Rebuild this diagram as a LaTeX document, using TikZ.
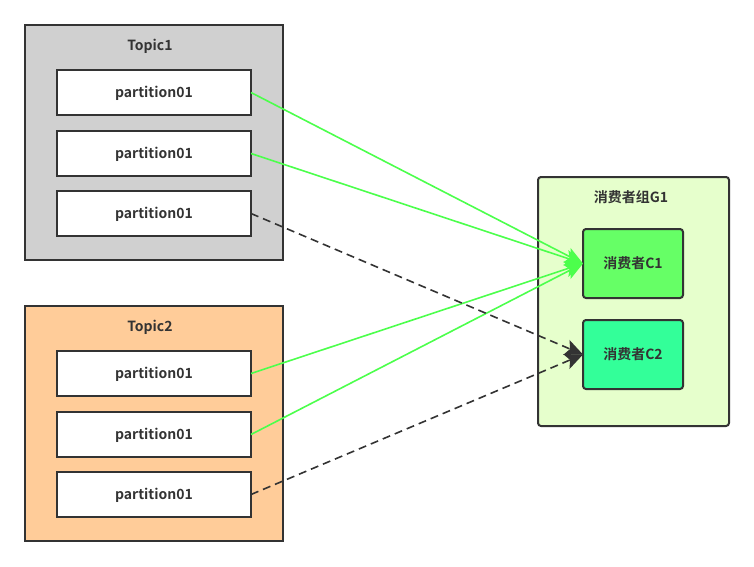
\documentclass[tikz,border=0pt]{standalone}
\usepackage{fontspec}
\setmainfont{Noto Sans CJK SC}[BoldFont={* Bold}]
\usetikzlibrary{arrows.meta}
\definecolor{edge}{HTML}{333333}
\definecolor{topicA}{HTML}{D0D0D0}
\definecolor{topicB}{HTML}{FFCC99}
\definecolor{grp}{HTML}{E6FFCC}
\definecolor{cone}{HTML}{66FF66}
\definecolor{ctwo}{HTML}{33FF99}
\definecolor{gline}{HTML}{4CFF4C}
\tikzset{
  lbl/.style={font=\bfseries\fontsize{14pt}{16pt}\selectfont, text=edge, text height=13.5pt, text depth=3pt},
  box/.style={draw=edge, line width=2pt, inner sep=0pt, outer sep=0pt},
  part/.style={box, lbl, fill=white, minimum width=194pt, minimum height=45pt},
  cons/.style={box, lbl, rounded corners=3pt, minimum width=100pt, minimum height=69pt},
  ttl/.style={lbl, inner sep=0pt},
  garrow/.style={draw=gline, line width=1.6pt, -{Stealth[length=18pt,width=16pt,inset=4pt,fill=gline]}},
  darrow/.style={draw=edge, line width=1.6pt, dash pattern=on 8pt off 5pt, -{Stealth[length=18pt,width=16pt,inset=4pt,fill=edge]}},
}
\begin{document}
\begin{tikzpicture}[x=1pt,y=-1pt]
\useasboundingbox (0,0) rectangle (754,566);
% Topic1
\node[box, fill=topicA, minimum width=258pt, minimum height=235pt] (t1) at (154,142.5) {};
\node[ttl] (t1l) at (150,45) {Topic1};
\node[part] (a1) at (154,92.5) {partition01};
\node[part] (a2) at (154,153.5) {partition01};
\node[part] (a3) at (154,213.5) {partition01};
% Topic2
\node[box, fill=topicB, minimum width=258pt, minimum height=235pt] (t2) at (154,423.5) {};
\node[ttl] (t2l) at (150,326) {Topic2};
\node[part] (b1) at (154,373.5) {partition01};
\node[part] (b2) at (154,434.5) {partition01};
\node[part] (b3) at (154,494.5) {partition01};
% Group
\node[box, rounded corners=3pt, fill=grp, minimum width=191pt, minimum height=249pt] (g) at (633.5,301.5) {};
\node[ttl] (gl) at (631,197) {消费者组G1};
\node[cons, fill=cone] (c1) at (633,263.5) {消费者C1};
\node[cons, fill=ctwo] (c2) at (633,354.5) {消费者C2};
% arrows
\draw[garrow] (a1.east) -- (c1.west);
\draw[garrow] (a2.east) -- (c1.west);
\draw[garrow] (b1.east) -- (c1.west);
\draw[garrow] (b2.east) -- (c1.west);
\draw[darrow] (a3.east) -- (c2.west);
\draw[darrow] (b3.east) -- (c2.west);
\end{tikzpicture}
\end{document}
